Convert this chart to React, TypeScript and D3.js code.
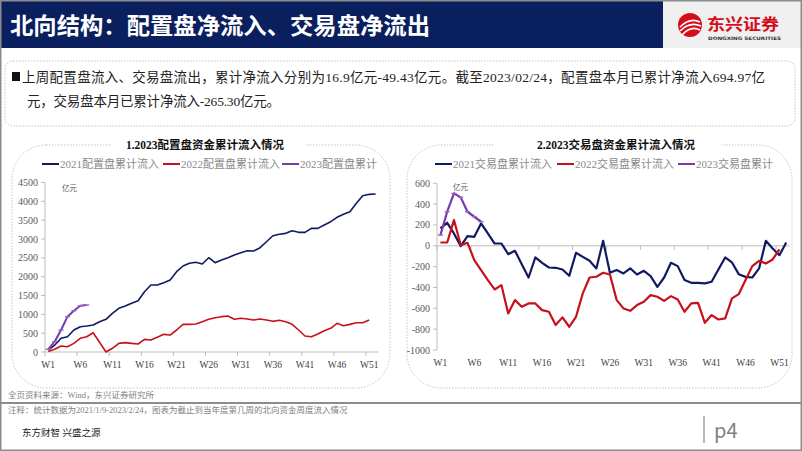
import React, { useEffect } from 'react';
import * as d3 from 'd3';

// week categories shared by both charts
const weeks = d3.range(1, 53).map(n => `W${n}`);
const weekTicks = ['W1', 'W6', 'W11', 'W16', 'W21', 'W26', 'W31', 'W36', 'W41', 'W46', 'W51'];

// 配置盘 cumulative inflow (亿元)
const alloc2021 = [50, 180, 364, 406, 584, 672, 690, 717, 805, 868, 1027, 1160, 1221, 1293, 1362, 1601, 1779, 1779, 1840, 1911, 2132, 2283, 2355, 2381, 2336, 2503, 2370, 2442, 2503, 2575, 2636, 2689, 2681, 2769, 2928, 3087, 3124, 3150, 3220, 3177, 3177, 3283, 3283, 3371, 3459, 3576, 3655, 3725, 3947, 4149, 4186, 4194];
const alloc2022 = [10, 72, 159, 141, 230, 364, 406, 512, 260, 0, 98, 230, 248, 230, 212, 336, 318, 389, 469, 451, 584, 734, 734, 743, 805, 868, 911, 938, 956, 868, 894, 876, 849, 876, 849, 814, 841, 805, 734, 584, 425, 406, 478, 566, 629, 761, 699, 734, 778, 778, 849];
const alloc2023 = [72, 274, 584, 938, 1097, 1230, 1248];
const allocTicks = [0, 500, 1000, 1500, 2000, 2500, 3000, 3500, 4000, 4500];
const allocLegend = ['2021配置盘累计流入', '2022配置盘累计流入', '2023配置盘累计'];

// 交易盘 cumulative inflow (亿元)
const trade2021 = [167, 221, 119, -3, 93, 86, 215, 119, 22, 22, -80, -48, -176, -304, -112, -163, -208, -211, -227, -288, -67, -106, -144, -217, 48, -259, -233, -265, -217, -275, -240, -291, -394, -304, -163, -195, -329, -355, -355, -361, -345, -227, -112, -160, -272, -298, -304, -217, 48, -25, -90, 32];
const trade2022 = [32, 32, 247, 7, 29, -137, -233, -329, -419, -377, -649, -521, -585, -553, -553, -617, -633, -761, -687, -777, -681, -457, -304, -297, -259, -275, -521, -601, -624, -569, -537, -473, -489, -528, -483, -515, -633, -553, -547, -739, -665, -707, -697, -505, -464, -329, -195, -144, -170, -131, -35];
const trade2023 = [103, 327, 503, 465, 327, 279, 231];
const tradeTicks = [-1000, -800, -600, -400, -200, 0, 200, 400, 600];
const tradeLegend = ['2021交易盘累计流入', '2022交易盘累计流入', '2023交易盘累计'];

const NAVY = '#0f1a62';
const RED = '#c8101a';
const PURPLE = '#7a3aa8';
const SERIF = '"Liberation Serif", "Times New Roman", "Noto Sans CJK SC", serif';
const SANS = '"Noto Sans CJK SC", "Noto Sans", sans-serif';

interface ChartCfg {
  title: string;
  titleX: number;
  legend: string[];
  legendX: number[];
  series: number[][];
  ticks: number[];
  xRange: [number, number];
  yRange: [number, number];
  labelX: number;
  labelSize: number;
  weekLabelY: number;
  unitX: number;
  unitY: number;
  zeroAxis: boolean;
  widths: number[];
  box: [number, number, number, number];
  gap: [number, number];
}

const Chart: React.FC<{ cfg: ChartCfg }> = ({ cfg }) => {
  const x = d3.scaleBand<string>().domain(weeks).range(cfg.xRange).padding(0);
  const y = d3.scaleLinear()
    .domain([cfg.ticks[0], cfg.ticks[cfg.ticks.length - 1]])
    .range(cfg.yRange);
  const cx = (i: number) => (x(weeks[i]) as number) + x.bandwidth() / 2;
  const line = d3.line<number>().x((d, i) => cx(i)).y(d => y(d));
  const colors = [NAVY, RED, PURPLE];
  const axisX = cfg.xRange[0];
  const baseY = cfg.zeroAxis ? y(0) : y(cfg.ticks[0]);
  const [bx, by, bw, bh] = cfg.box;
  const boundaries = d3.range(0, 51, 5);

  return (
    <g>
      <rect x={bx} y={by} width={bw} height={bh} rx={34} ry={34} fill="none"
        stroke="#c4c4c4" strokeWidth={1} strokeDasharray="1.5,1.5" />
      <rect x={cfg.gap[0]} y={by - 3} width={cfg.gap[1] - cfg.gap[0]} height={6} fill="#fff" />
      <text x={cfg.titleX} y={149} textAnchor="middle" fontFamily={SERIF} fontWeight="bold"
        fontSize={11.5} fill="#111">{cfg.title}</text>

      {cfg.legend.map((t, i) => (
        <g key={t}>
          <line x1={cfg.legendX[i]} x2={cfg.legendX[i] + 17} y1={164} y2={164}
            stroke={colors[i]} strokeWidth={2} />
          <text x={cfg.legendX[i] + 18} y={168} fontFamily={SERIF} fontSize={11}
            fill="#8a8a8a">{t}</text>
        </g>
      ))}

      {/* y axis */}
      <line x1={axisX} x2={axisX} y1={cfg.yRange[0]} y2={cfg.yRange[1]} stroke="#bdbdbd" />
      {cfg.ticks.map(t => (
        <g key={t}>
          <line x1={axisX - 4} x2={axisX} y1={y(t)} y2={y(t)} stroke="#bdbdbd" />
          <text x={cfg.labelX} y={y(t) + 3.5} textAnchor="end" fontFamily={SERIF}
            fontSize={cfg.labelSize} fill="#595959">{t}</text>
        </g>
      ))}

      {/* x axis */}
      <line x1={axisX} x2={cfg.xRange[1]} y1={baseY} y2={baseY} stroke="#bdbdbd" />
      {boundaries.map(i => (
        <line key={i} x1={x(weeks[i])} x2={x(weeks[i])} y1={baseY} y2={baseY + 4} stroke="#bdbdbd" />
      ))}
      {weekTicks.map(w => (
        <text key={w} x={(x(w) as number) + x.bandwidth() / 2} y={cfg.weekLabelY} textAnchor="middle"
          fontFamily={SERIF} fontSize={9.5} fill="#404040">{w}</text>
      ))}
      <text x={cfg.unitX} y={cfg.unitY} fontFamily={SANS} fontSize={7.5} fill="#595959">亿元</text>

      {cfg.series.map((s, k) => (
        <path key={k} d={line(s) || ''} fill="none" stroke={colors[k]}
          strokeWidth={cfg.widths[k]} strokeLinejoin="round" />
      ))}
      {cfg.series[2].map((v, i) => (
        <line key={i} x1={cx(i) - 2.5} x2={cx(i) + 2.5} y1={y(v)} y2={y(v)}
          stroke="#9a66c8" strokeWidth={1.4} />
      ))}
    </g>
  );
};

const leftCfg: ChartCfg = {
  title: '1.2023配置盘资金累计流入情况',
  titleX: 205,
  legend: allocLegend,
  legendX: [42, 163, 282],
  series: [alloc2021, alloc2022, alloc2023],
  ticks: allocTicks,
  xRange: [45, 378.8],
  yRange: [352, 182.5],
  labelX: 38,
  labelSize: 10,
  weekLabelY: 368,
  unitX: 62,
  unitY: 191,
  zeroAxis: false,
  widths: [1.6, 1.6, 2],
  box: [12, 145, 378, 243],
  gap: [112, 306],
};

const rightCfg: ChartCfg = {
  title: '2.2023交易盘资金累计流入情况',
  titleX: 616,
  legend: tradeLegend,
  legendX: [435, 557, 678],
  series: [trade2021, trade2022, trade2023],
  ticks: tradeTicks,
  xRange: [437, 789.6],
  yRange: [350, 183.3],
  labelX: 430,
  labelSize: 10,
  weekLabelY: 366,
  unitX: 453,
  unitY: 190,
  zeroAxis: true,
  widths: [2.2, 2.2, 2.2],
  box: [407, 145, 385, 243],
  gap: [495, 721],
};

const App: React.FC = () => {
  useEffect(() => {
    document.body.style.margin = '0';
  }, []);

  return (
    <svg width={802} height={451} style={{ position: 'absolute', left: 0, top: 0, background: '#fff' }}>
      {/* header */}
      <rect x={0} y={0} width={802} height={451} fill="#fff" />
      <rect x={0} y={1} width={663} height={47} fill="#0a1f5e" />
      <rect x={663} y={1} width={139} height={47} fill="#f0f0f0" />
      <text x={10} y={34} fontFamily={SANS} fontWeight="bold" fontSize={23} fill="#fff"
        textLength={420} lengthAdjust="spacingAndGlyphs">
        北向结构：配置盘净流入、交易盘净流出
      </text>
      <circle cx={690} cy={25} r={12} fill="#d50d1a" />
      <path d="M680,27 Q690,17 700,22" stroke="#fff" strokeWidth={1.6} fill="none" />
      <path d="M680,31 Q690,21 701,26" stroke="#fff" strokeWidth={1.6} fill="none" />
      <path d="M682,35 Q691,25 700,30" stroke="#fff" strokeWidth={1.6} fill="none" />
      <text x={707} y={30} fontFamily={SANS} fontWeight="bold" fontSize={16} fill="#d50d1a"
        textLength={72} lengthAdjust="spacingAndGlyphs">东兴证券</text>
      <text x={708} y={39.5} fontFamily="DejaVu Sans" fontWeight="bold" fontSize={4.6} fill="#333"
        textLength={73} lengthAdjust="spacingAndGlyphs">DONGXING SECURITIES</text>

      {/* summary box */}
      <rect x={5} y={61} width={790} height={65} rx={8} ry={8} fill="none" stroke="#c4c4c4"
        strokeDasharray="1.5,1.5" />
      <rect x={12} y={72} width={8} height={9} fill="#111" />
      <text x={22} y={82} fontFamily={SERIF} fontSize={13.5} fill="#222"
        textLength={743} lengthAdjust="spacing">
        上周配置盘流入、交易盘流出，累计净流入分别为16.9亿元-49.43亿元。截至2023/02/24，配置盘本月已累计净流入694.97亿
      </text>
      <text x={27} y={106} fontFamily={SERIF} fontSize={13.5} fill="#222"
        textLength={253} lengthAdjust="spacing">
        元，交易盘本月已累计净流入-265.30亿元。
      </text>

      <Chart cfg={leftCfg} />
      <Chart cfg={rightCfg} />

      {/* footer */}
      <text x={8} y={398} fontFamily={SERIF} fontSize={8.5} fill="#7f7f7f">全页资料来源：Wind，东兴证券研究所</text>
      <line x1={0} x2={802} y1={403} y2={403} stroke="#8c8c8c" strokeWidth={2} />
      <text x={8} y={413} fontFamily={SERIF} fontSize={8.5} fill="#7f7f7f">
        注释：统计数据为2021/1/9-2023/2/24，图表为截止到当年度第几周的北向资金周度流入情况
      </text>
      <text x={22} y={436} fontFamily={SERIF} fontSize={9.5} fill="#222">东方财智 兴盛之源</text>
      <line x1={704} x2={704} y1={416} y2={443} stroke="#8c8c8c" strokeWidth={1.2} />
      <text x={714} y={438} fontFamily={SANS} fontSize={20} fill="#7f7f7f">p4</text>

      {/* slide frame */}
      <rect x={0.75} y={0.75} width={800.5} height={449.5} fill="none" stroke="#8c8c8c" strokeWidth={1.5} />
    </svg>
  );
};

export default App;
